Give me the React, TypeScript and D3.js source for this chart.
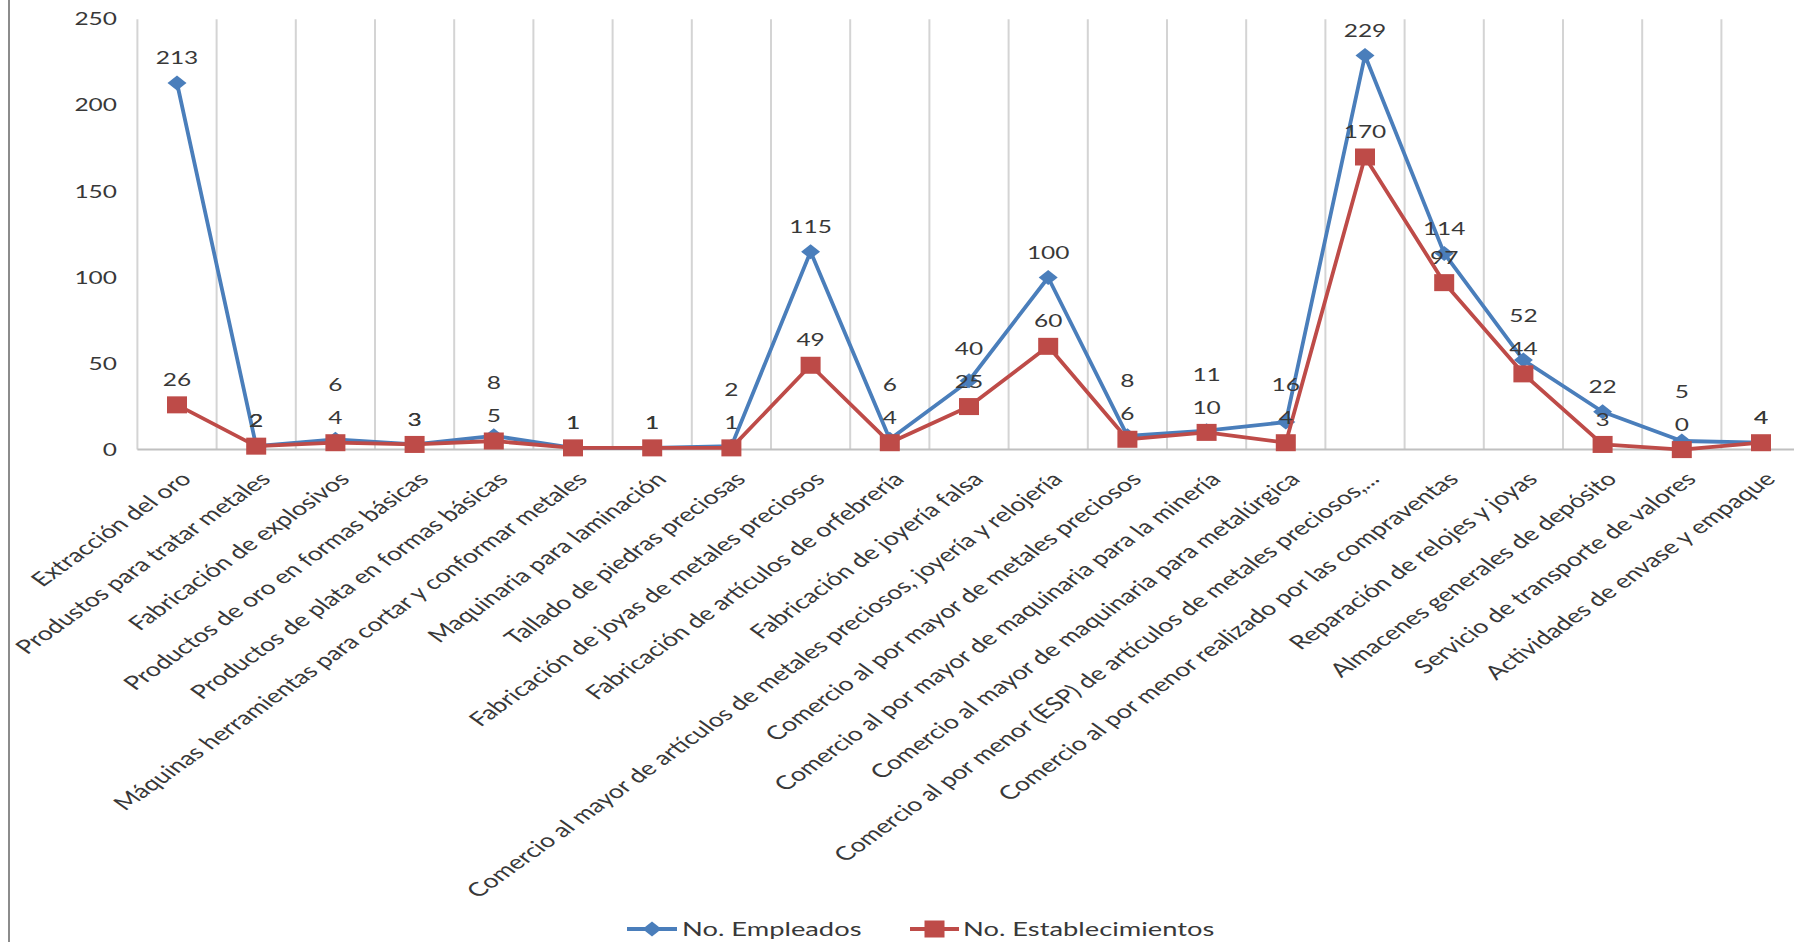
import React, { useEffect } from "react";
import * as d3 from "d3";

const categories: string[] = [
  "Extracción del oro",
  "Produstos para tratar metales",
  "Fabricación de explosivos",
  "Productos de oro en formas básicas",
  "Productos de plata en formas básicas",
  "Máquinas herramientas para cortar y conformar metales",
  "Maquinaria para laminación",
  "Tallado de piedras preciosas",
  "Fabricación de joyas de metales preciosos",
  "Fabricación de artículos de orfebrería",
  "Fabricación de joyería falsa",
  "Comercio al mayor de artículos de metales preciosos, joyería y relojería",
  "Comercio al por mayor de metales preciosos",
  "Comercio al por mayor de maquinaria para la minería",
  "Comercio al mayor de maquinaria para metalúrgica",
  "Comercio al por menor (ESP) de artículos de metales preciosos,...",
  "Comercio al por menor realizado por las compraventas",
  "Reparación de relojes y joyas",
  "Almacenes generales de depósito",
  "Servicio de transporte de valores",
  "Actividades de envase y empaque",
];

const empleados: number[] = [213, 2, 6, 3, 8, 1, 1, 2, 115, 6, 40, 100, 8, 11, 16, 229, 114, 52, 22, 5, 4];
const establecimientos: number[] = [26, 2, 4, 3, 5, 1, 1, 1, 49, 4, 25, 60, 6, 10, 4, 170, 97, 44, 3, 0, 4];
const yTicks: number[] = [0, 50, 100, 150, 200, 250];
const seriesNames: string[] = ["No. Empleados", "No. Establecimientos"];

const W = 1794;
const H = 942;
const SX = 1.4; // horizontal stretch of the original picture
const FONT = "Lato, 'Open Sans', sans-serif";
const BLUE = "#4a7ebb";
const RED = "#be4b48";
const TEXT = "#383838";

export default function App() {
  useEffect(() => {
    document.body.style.margin = "0";
  }, []);

  const plotLeft = 137.4;
  const band = 79.2;
  const x = d3
    .scaleBand<string>()
    .domain(categories)
    .range([plotLeft, plotLeft + band * categories.length])
    .paddingInner(0)
    .paddingOuter(0);
  const y = d3.scaleLinear().domain([0, 250]).range([449.6, 19.3]);
  const cx = (i: number) => (x(categories[i]) as number) + x.bandwidth() / 2;

  const line = d3
    .line<number>()
    .x((_, i) => cx(i))
    .y((d) => y(d));

  const fs = 17.5;
  const catFs = 19.2;

  // data label positions
  const labels: { x: number; y: number; t: string }[] = [];
  categories.forEach((_, i) => {
    const rl = y(establecimientos[i]) - 25;
    let bl = y(empleados[i]) - 25;
    if (empleados[i] !== establecimientos[i] && bl > rl - 28) bl = rl - 33;
    labels.push({ x: cx(i), y: bl, t: String(empleados[i]) });
    labels.push({ x: cx(i), y: rl, t: String(establecimientos[i]) });
  });

  const stext = (
    key: string | number,
    tx: number,
    ty: number,
    t: string,
    anchor: string,
    size: number,
    extra = "",
    dy = "0.35em"
  ) => (
    <text
      key={key}
      transform={`translate(${tx},${ty}) scale(${SX},1) ${extra}`}
      textAnchor={anchor}
      dy={dy}
      fontSize={size}
      fontFamily={FONT}
      fill={TEXT}
    >
      {t}
    </text>
  );

  const diamond = (px: number, py: number, k: string | number) => (
    <path key={k} d={`M${px},${py - 7.5} L${px + 9.5},${py} L${px},${py + 7.5} L${px - 9.5},${py} Z`} fill={BLUE} />
  );
  const square = (px: number, py: number, k: string | number) => (
    <rect key={k} x={px - 10} y={py - 8.5} width={20} height={17} fill={RED} />
  );

  const boundaries = d3.range(categories.length + 1).map((i) => plotLeft + i * band);

  return (
    <svg width={W} height={H} style={{ display: "block", background: "#fff" }}>
      <rect x={0} y={0} width={W} height={H} fill="#fff" />
      {/* chart border left */}
      <line x1={9} x2={9} y1={0} y2={H} stroke="#8c8c8c" strokeWidth={2} />
      {/* vertical gridlines */}
      {boundaries.map((bx, i) => (
        <line key={"g" + i} x1={bx} x2={bx} y1={y(250)} y2={y(0)} stroke="#d4d4d4" strokeWidth={2} />
      ))}
      {/* x axis */}
      <line x1={plotLeft} x2={W} y1={y(0)} y2={y(0)} stroke="#c0c0c0" strokeWidth={2} />
      {/* y tick labels */}
      {yTicks.map((t) => stext("yt" + t, 117, y(t), String(t), "end", fs))}
      {/* lines */}
      <path d={line(empleados) || ""} fill="none" stroke={BLUE} strokeWidth={3.8} strokeLinejoin="round" />
      {empleados.map((v, i) => diamond(cx(i), y(v), "d" + i))}
      <path d={line(establecimientos) || ""} fill="none" stroke={RED} strokeWidth={3.8} strokeLinejoin="round" />
      {establecimientos.map((v, i) => square(cx(i), y(v), "s" + i))}
      {/* data labels */}
      {labels.map((l, i) => stext("l" + i, l.x, l.y, l.t, "middle", fs))}
      {/* category labels */}
      {categories.map((c, i) => stext("c" + i, cx(i) + 2, y(0) + 21, c, "end", catFs, "rotate(-45)", "0.72em"))}
      {/* legend */}
      <line x1={627} x2={677} y1={929} y2={929} stroke={BLUE} strokeWidth={3.8} />
      {diamond(652, 929, "ld")}
      {stext("lt1", 682, 929, seriesNames[0], "start", 19.5)}
      <line x1={910} x2={959} y1={929} y2={929} stroke={RED} strokeWidth={3.8} />
      {square(934.5, 929, "ls")}
      {stext("lt2", 963, 929, seriesNames[1], "start", 19.5)}
    </svg>
  );
}
